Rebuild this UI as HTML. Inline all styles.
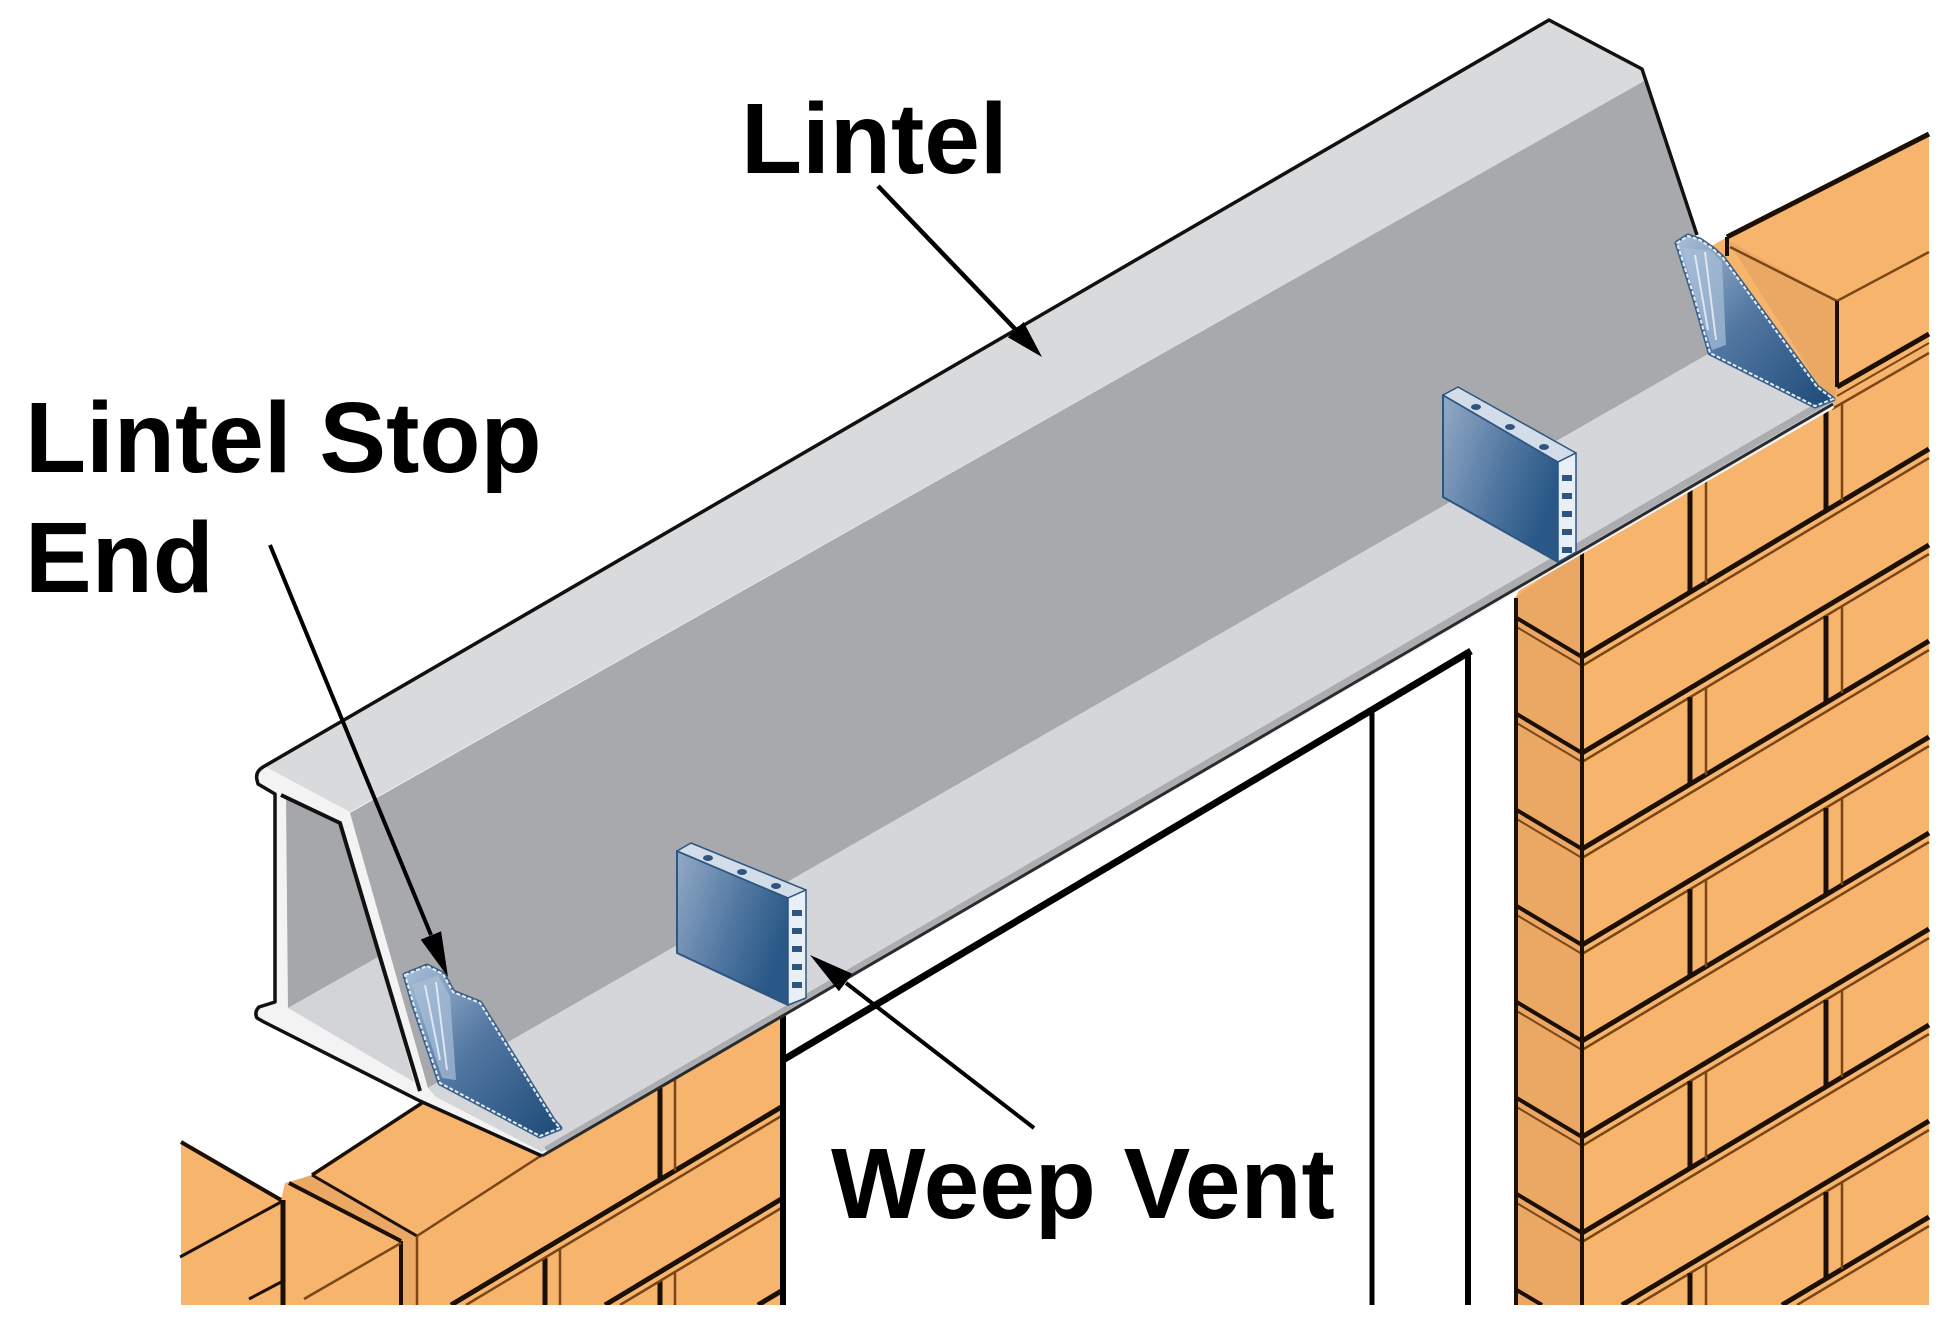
<!DOCTYPE html>
<html><head><meta charset="utf-8"><style>
html,body{margin:0;padding:0;background:#fff;width:1954px;height:1330px;overflow:hidden;}
svg{display:block;}
text{font-family:"Liberation Sans",Arial,sans-serif;font-weight:bold;fill:#000;}
</style></head><body>
<svg width="1954" height="1330" viewBox="0 0 1954 1330" xmlns="http://www.w3.org/2000/svg">
<defs>
<linearGradient id="se" x1="0" y1="0" x2="1" y2="1">
<stop offset="0" stop-color="#a9bfd8"/><stop offset="0.45" stop-color="#5378a2"/><stop offset="1" stop-color="#1d4a78"/>
</linearGradient>
<linearGradient id="vent" x1="0" y1="0" x2="1" y2="0.5">
<stop offset="0" stop-color="#93aac6"/><stop offset="0.6" stop-color="#4f76a0"/><stop offset="1" stop-color="#295887"/>
</linearGradient>
<clipPath id="cb"><rect x="0" y="0" width="1954" height="1305"/></clipPath>
</defs>
<rect width="1954" height="1330" fill="#fff"/>

<!-- RIGHT WALL -->
<g clip-path="url(#cb)">
<polygon points="1705,250 1727,237 1929,134 1929,1305 1515,1305 1515,598" fill="#f6b46c"/>
<polygon points="1515,598 1582,549 1582,1305 1515,1305" fill="#eba865"/>
<polygon points="1727,240 1837,300 1837,388 1832,405" fill="#eba865"/>
<g stroke="#1c0f05" stroke-width="5" fill="none">
<line x1="1582" y1="657" x2="1929" y2="449"/>
<line x1="1582" y1="753" x2="1929" y2="545"/>
<line x1="1582" y1="849" x2="1929" y2="641"/>
<line x1="1582" y1="945" x2="1929" y2="737"/>
<line x1="1582" y1="1041" x2="1929" y2="833"/>
<line x1="1582" y1="1137" x2="1929" y2="929"/>
<line x1="1582" y1="1233" x2="1929" y2="1025"/>
<line x1="1622" y1="1305" x2="1929" y2="1121"/>
<line x1="1782" y1="1305" x2="1929" y2="1217"/>
</g>
<g stroke="#7a4617" stroke-width="2.5" fill="none">
<line x1="1582" y1="666" x2="1929" y2="458"/>
<line x1="1582" y1="762" x2="1929" y2="554"/>
<line x1="1582" y1="858" x2="1929" y2="650"/>
<line x1="1582" y1="954" x2="1929" y2="746"/>
<line x1="1582" y1="1050" x2="1929" y2="842"/>
<line x1="1582" y1="1146" x2="1929" y2="938"/>
<line x1="1582" y1="1242" x2="1929" y2="1034"/>
<line x1="1637" y1="1305" x2="1929" y2="1130"/>
<line x1="1797" y1="1305" x2="1929" y2="1226"/>
</g>
<g stroke="#1c0f05" stroke-width="4" fill="none">
<line x1="1515" y1="617" x2="1582" y2="657"/>
<line x1="1515" y1="713" x2="1582" y2="753"/>
<line x1="1515" y1="809" x2="1582" y2="849"/>
<line x1="1515" y1="905" x2="1582" y2="945"/>
<line x1="1515" y1="1001" x2="1582" y2="1041"/>
<line x1="1515" y1="1097" x2="1582" y2="1137"/>
<line x1="1515" y1="1193" x2="1582" y2="1233"/>
<line x1="1515" y1="1289" x2="1542" y2="1305"/>
</g>
<g stroke="#7a4617" stroke-width="2" fill="none">
<line x1="1515" y1="626" x2="1582" y2="666"/>
<line x1="1515" y1="722" x2="1582" y2="762"/>
<line x1="1515" y1="818" x2="1582" y2="858"/>
<line x1="1515" y1="914" x2="1582" y2="954"/>
<line x1="1515" y1="1010" x2="1582" y2="1050"/>
<line x1="1515" y1="1106" x2="1582" y2="1146"/>
<line x1="1515" y1="1202" x2="1582" y2="1242"/>
</g>
<g stroke="#1c0f05" stroke-width="5" fill="none">
<line x1="1690" y1="490" x2="1690" y2="592"/>
<line x1="1826" y1="410" x2="1826" y2="511"/>
<line x1="1690" y1="697" x2="1690" y2="784"/>
<line x1="1826" y1="616" x2="1826" y2="703"/>
<line x1="1690" y1="889" x2="1690" y2="976"/>
<line x1="1826" y1="808" x2="1826" y2="895"/>
<line x1="1690" y1="1081" x2="1690" y2="1168"/>
<line x1="1826" y1="1000" x2="1826" y2="1087"/>
<line x1="1690" y1="1273" x2="1690" y2="1305"/>
<line x1="1826" y1="1192" x2="1826" y2="1279"/>
</g>
<g stroke="#7a4617" stroke-width="2.5" fill="none">
<line x1="1706" y1="481" x2="1706" y2="583"/>
<line x1="1842" y1="402" x2="1842" y2="501"/>
<line x1="1706" y1="688" x2="1706" y2="775"/>
<line x1="1842" y1="606" x2="1842" y2="693"/>
<line x1="1706" y1="880" x2="1706" y2="967"/>
<line x1="1842" y1="798" x2="1842" y2="885"/>
<line x1="1706" y1="1072" x2="1706" y2="1159"/>
<line x1="1842" y1="990" x2="1842" y2="1077"/>
<line x1="1706" y1="1264" x2="1706" y2="1305"/>
<line x1="1842" y1="1182" x2="1842" y2="1269"/>
</g>
<line x1="1582" y1="549" x2="1582" y2="1305" stroke="#1c0f05" stroke-width="4"/>
<line x1="1516" y1="598" x2="1516" y2="1305" stroke="#1c0f05" stroke-width="4"/>
<line x1="1727" y1="237" x2="1929" y2="134" stroke="#1c0f05" stroke-width="5"/>
<line x1="1727" y1="237" x2="1727" y2="256" stroke="#1c0f05" stroke-width="4"/>
<polyline points="1730,247 1837,301 1929,252" stroke="#7a4617" stroke-width="2.5" fill="none"/>
<line x1="1837" y1="301" x2="1837" y2="387" stroke="#1c0f05" stroke-width="4"/>
<line x1="1837" y1="387" x2="1929" y2="334" stroke="#1c0f05" stroke-width="5"/>
<line x1="1837" y1="396" x2="1929" y2="343" stroke="#7a4617" stroke-width="2"/>
<line x1="1832" y1="409" x2="1929" y2="353" stroke="#7a4617" stroke-width="2.5"/>
</g>

<!-- LEFT WALL -->
<g clip-path="url(#cb)">
<polygon points="181,1142 281,1200 285,1183 312,1175 422,1103 542,1155 783,1014 783,1305 181,1305" fill="#f6b46c"/>
<polygon points="289,1183 312,1175 417,1236 417,1305 401,1305 401,1241" fill="#eba865"/>
<g stroke="#1c0f05" fill="none">
<line x1="181" y1="1142" x2="281" y2="1200" stroke-width="4"/>
<line x1="283" y1="1200" x2="283" y2="1305" stroke-width="5"/>
<line x1="289" y1="1183" x2="401" y2="1241" stroke-width="4"/>
<line x1="401" y1="1241" x2="401" y2="1305" stroke-width="4"/>
<line x1="312" y1="1175" x2="422" y2="1103" stroke-width="3.5"/>
<line x1="312" y1="1175" x2="417" y2="1236" stroke-width="3"/>
<line x1="180" y1="1257" x2="281" y2="1202" stroke-width="3"/>
<line x1="249" y1="1299" x2="285" y2="1280" stroke-width="3"/>
<line x1="451" y1="1305" x2="783" y2="1106" stroke-width="5"/>
<line x1="605" y1="1305" x2="783" y2="1198" stroke-width="5"/>
<line x1="758" y1="1305" x2="783" y2="1290" stroke-width="5"/>
<line x1="660" y1="1088" x2="660" y2="1180" stroke-width="5"/>
<line x1="545" y1="1258" x2="545" y2="1305" stroke-width="5"/>
<line x1="660" y1="1281" x2="660" y2="1305" stroke-width="5"/>
</g>
<g stroke="#7a4617" stroke-width="2.5" fill="none">
<line x1="417" y1="1236" x2="417" y2="1305"/>
<line x1="417" y1="1236" x2="542" y2="1155"/>
<line x1="304" y1="1299" x2="401" y2="1243"/>
<line x1="466" y1="1305" x2="783" y2="1115"/>
<line x1="620" y1="1305" x2="783" y2="1207"/>
<line x1="675" y1="1079" x2="675" y2="1171"/>
<line x1="560" y1="1249" x2="560" y2="1305"/>
<line x1="675" y1="1272" x2="675" y2="1305"/>
</g>
</g>

<!-- DOOR -->
<line x1="783" y1="1014" x2="783" y2="1305" stroke="#000" stroke-width="6"/>
<line x1="783" y1="1060" x2="1471" y2="651" stroke="#000" stroke-width="7"/>
<line x1="1372" y1="710" x2="1372" y2="1305" stroke="#000" stroke-width="5"/>
<line x1="1468" y1="653" x2="1468" y2="1305" stroke="#000" stroke-width="6"/>

<!-- LINTEL -->
<polygon points="262,767 1549,20 1642,69 1697,235 1680,245 1710,353 1832,401 1834,408 542,1157 420,1102 263,1022 255,1015 257,1007 274,1002 274,794 258,784 256,775" fill="#f3f3f3"/>
<polygon points="266,767 1549,20 1642,69 1646,80 350,812" fill="#d9dadc"/>
<polygon points="350,813 1646,80 1697,235 1680,245 1710,353 428,1088" fill="#a8a9ad"/>
<polygon points="428,1088 1710,353 1832,403 542,1152 436,1097" fill="#d5d6d9"/>
<polygon points="286,798 340,824 380,956 288,1008" fill="#a6a7ab"/>
<polygon points="288,1008 380,956 414,1082" fill="#d3d4d7"/>
<line x1="546" y1="1150" x2="1830" y2="399" stroke="#a3a5a9" stroke-width="7" opacity="0.85"/>
<line x1="542" y1="1156" x2="1833" y2="404" stroke="#2b2b2b" stroke-width="3"/>
<path d="M1697,235 L1642,69 L1549,20 L263,767 Q255,772 257,780 L258,784 L275,794 L275,1002 L259,1007 Q254,1012 257,1018 L264,1022 L420,1101 L542,1156" fill="none" stroke="#111" stroke-width="3.5" stroke-linejoin="round"/>
<path d="M281,795 L340,823 L420,1091" fill="none" stroke="#111" stroke-width="4"/>

<!-- STOP ENDS -->
<polygon points="405,975 427,966 443,974 453,992 480,1003 553,1120 560,1128 540,1136 440,1083 413,1003" fill="none" stroke="#3a5f86" stroke-width="5" stroke-linejoin="round"/>
<polygon points="405,975 427,966 443,974 453,992 480,1003 553,1120 560,1128 540,1136 440,1083 413,1003" fill="url(#se)" stroke="#e4edf6" stroke-width="2" stroke-dasharray="4 2"/>
<polygon points="412,985 438,975 450,996 456,1080 442,1078 420,1010" fill="#a9bfd8" opacity="0.7"/>
<g stroke="#eef4fa" stroke-width="2" opacity="0.8"><line x1="425" y1="985" x2="440" y2="1060"/><line x1="436" y1="982" x2="447" y2="1070"/></g>

<polygon points="1677,243 1688,236 1700,240 1713,249 1723,258 1817,387 1833,399 1815,406 1710,353 1695,300" fill="none" stroke="#3a5f86" stroke-width="5" stroke-linejoin="round"/>
<polygon points="1677,243 1688,236 1700,240 1713,249 1723,258 1817,387 1833,399 1815,406 1710,353 1695,300" fill="url(#se)" stroke="#e4edf6" stroke-width="2" stroke-dasharray="4 2"/>
<polygon points="1682,248 1710,250 1722,262 1726,345 1712,350 1696,300" fill="#a9bfd8" opacity="0.7"/>
<g stroke="#eef4fa" stroke-width="2" opacity="0.8"><line x1="1695" y1="255" x2="1708" y2="330"/><line x1="1705" y1="252" x2="1716" y2="340"/></g>

<!-- WEEP VENTS -->
<g stroke="#2d5580" stroke-linejoin="round">
<polygon points="677,851 788,898 788,1005 677,953" fill="url(#vent)" stroke-width="2"/>
<polygon points="677,851 691,843 806,890 788,898" fill="#d3dde9" stroke-width="1.5"/>
<polygon points="788,898 806,890 806,998 788,1005" fill="#e8eff6" stroke-width="1.5"/>
<polygon points="1443,395 1558,462 1558,562 1443,497" fill="url(#vent)" stroke-width="2"/>
<polygon points="1443,395 1458,387 1576,453 1558,462" fill="#d3dde9" stroke-width="1.5"/>
<polygon points="1558,462 1576,453 1576,552 1558,562" fill="#e8eff6" stroke-width="1.5"/>
</g>
<g fill="#2d5580">
<rect x="792" y="910" width="10" height="6"/><rect x="792" y="928" width="10" height="6"/><rect x="792" y="946" width="10" height="6"/><rect x="792" y="964" width="10" height="6"/><rect x="792" y="982" width="10" height="6"/>
<ellipse cx="708" cy="858" rx="5" ry="3"/><ellipse cx="742" cy="872" rx="5" ry="3"/><ellipse cx="776" cy="886" rx="5" ry="3"/>
<rect x="1562" y="475" width="10" height="6"/><rect x="1562" y="493" width="10" height="6"/><rect x="1562" y="511" width="10" height="6"/><rect x="1562" y="529" width="10" height="6"/><rect x="1562" y="547" width="10" height="6"/>
<ellipse cx="1476" cy="407" rx="5" ry="3"/><ellipse cx="1510" cy="427" rx="5" ry="3"/><ellipse cx="1544" cy="447" rx="5" ry="3"/>
</g>

<!-- ARROWS -->
<line x1="878" y1="186" x2="1016" y2="330" stroke="#000" stroke-width="4.5"/>
<polygon points="1042,357 1007.8,337.2 1023.6,322" fill="#000"/>
<line x1="270" y1="545" x2="431" y2="935" stroke="#000" stroke-width="4"/>
<polygon points="448,977 420.7,939.6 441.1,931.2" fill="#000"/>
<line x1="1034" y1="1128" x2="846" y2="983" stroke="#000" stroke-width="4"/>
<polygon points="810,955 852.3,973.8 838.9,991.2" fill="#000"/>

<!-- LABELS -->
<text x="741" y="173" font-size="100">Lintel</text>
<text x="25" y="472" font-size="100">Lintel Stop</text>
<text x="25" y="592" font-size="100">End</text>
<text x="831" y="1218" font-size="100">Weep Vent</text>
</svg>
</body></html>
